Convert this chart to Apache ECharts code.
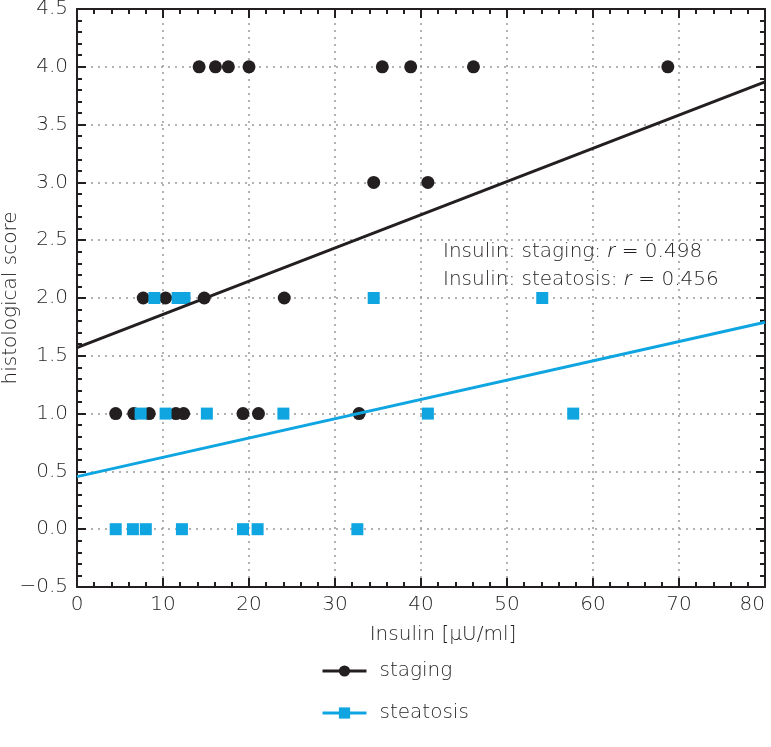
<!DOCTYPE html>
<html>
<head>
<meta charset="utf-8">
<script src="https://cdn.jsdelivr.net/npm/echarts@6/dist/echarts.min.js"></script>
<style>html,body{margin:0;padding:0;background:#fff}#c{width:771px;height:747px}</style>
</head>
<body>
<div id="c"></div>
<script>
// Data
var stagingX = [14.2, 16.1, 17.6, 20.0, 35.5, 38.8, 46.1, 68.7, 34.5, 40.8, 7.7, 10.3, 14.8, 24.1, 4.5, 6.6, 8.4, 11.5, 12.4, 19.3, 21.1, 32.8];
var stagingY = [4, 4, 4, 4, 4, 4, 4, 4, 3, 3, 2, 2, 2, 2, 1, 1, 1, 1, 1, 1, 1, 1];
var steatosisX = [9.0, 11.7, 12.5, 34.5, 54.1, 7.4, 10.3, 15.1, 24.0, 40.8, 57.7, 4.5, 6.5, 8.0, 12.2, 19.3, 21.0, 32.6];
var steatosisY = [2, 2, 2, 2, 2, 1, 1, 1, 1, 1, 1, 0, 0, 0, 0, 0, 0, 0];
var stagingFitX = [0, 80];
var stagingFitY = [1.57, 3.87];
var steatosisFitX = [0, 80];
var steatosisFitY = [0.455, 1.79];
var xTicks = [0, 10, 20, 30, 40, 50, 60, 70, 80];
var yTicks = [-0.5, 0, 0.5, 1, 1.5, 2, 2.5, 3, 3.5, 4, 4.5];
var seriesNames = ['staging', 'steatosis'];
var annotationLines = [['Insulin: staging: ', 'r', ' = 0.498'], ['Insulin: steatosis: ', 'r', ' = 0.456']];

var BLACK = '#231f20', BLUE = '#0ea5e1', TXT = '#231f20';
var FONT = 'DejaVu Sans';
function zip(a, b) { return a.map(function (v, i) { return [v, b[i]]; }); }

var chart = echarts.init(document.getElementById('c'));
var axisLineStyle = { color: BLACK, width: 2 };
function xAx(pos, main) {
  return {
    type: 'value', position: pos, min: xTicks[0], max: xTicks[xTicks.length - 1], interval: 10,
    axisLine: { show: true, onZero: false, lineStyle: axisLineStyle },
    axisTick: { show: true, inside: true, length: 9, lineStyle: { color: BLACK, width: 2 } },
    minorTick: { show: true, splitNumber: 5, length: 5, lineStyle: { color: BLACK, width: 2 } },
    axisLabel: { show: main, fontSize: 20, color: TXT, fontFamily: FONT, fontWeight: 200, margin: 8, alignMaxLabel: 'right' },
    splitLine: { show: main, lineStyle: { type: [2, 5], color: '#999', width: 1.5 } },
    name: main ? 'Insulin [\u03bcU/ml]' : '', nameLocation: 'middle', nameGap: 38, nameMoveOverlap: false,
    nameTextStyle: { fontSize: 20, color: TXT, fontFamily: FONT, fontWeight: 200, padding: [0, 0, 0, 44] }
  };
}
function yAx(pos, main) {
  return {
    type: 'value', position: pos, min: yTicks[0], max: yTicks[yTicks.length - 1], interval: 0.5,
    axisLine: { show: true, onZero: false, lineStyle: axisLineStyle },
    axisTick: { show: true, inside: true, length: 9, lineStyle: { color: BLACK, width: 2 } },
    minorTick: { show: true, splitNumber: 5, length: 5, lineStyle: { color: BLACK, width: 2 } },
    axisLabel: { show: main, fontSize: 20, color: TXT, fontFamily: FONT, fontWeight: 200, margin: 9,
      formatter: function (v) { var s = Math.abs(v).toFixed(1); return v < 0 ? '\u2212' + s : s; } },
    splitLine: { show: main, lineStyle: { type: [2, 5], color: '#999', width: 1.5 } },
    name: main ? 'histological score' : '', nameLocation: 'middle', nameGap: 56, nameMoveOverlap: false,
    nameTextStyle: { fontSize: 20, color: TXT, fontFamily: FONT, fontWeight: 200 }
  };
}

chart.setOption({
  animation: false,
  backgroundColor: '#fff',
  grid: { left: 77, top: 9, right: 6, bottom: 160, containLabel: false, outerBoundsMode: 'none' },
  xAxis: [xAx('bottom', true), xAx('top', false)],
  yAxis: [yAx('left', true), yAx('right', false)],
  legend: {
    data: seriesNames, orient: 'vertical', left: 316, top: 656, itemWidth: 44, itemHeight: 14, itemGap: 22,
    lineStyle: { width: 3 },
    textStyle: { fontSize: 20, color: TXT, fontFamily: FONT, fontWeight: 200, padding: [0, 0, 0, 8] }
  },
  series: [
    { name: seriesNames[0], type: 'line', data: zip(stagingFitX, stagingFitY), showSymbol: false, symbol: 'circle', symbolSize: 12,
      lineStyle: { color: BLACK, width: 3 }, itemStyle: { color: BLACK }, z: 5 },
    { name: seriesNames[1], type: 'line', data: zip(steatosisFitX, steatosisFitY), showSymbol: false, symbol: 'rect', symbolSize: 12,
      lineStyle: { color: BLUE, width: 3 }, itemStyle: { color: BLUE }, z: 5 },
    { name: seriesNames[0], type: 'scatter', data: zip(stagingX, stagingY), symbol: 'circle', symbolSize: 13,
      itemStyle: { color: BLACK, opacity: 1 }, z: 3 },
    { name: seriesNames[1], type: 'scatter', data: zip(steatosisX, steatosisY), symbol: 'rect', symbolSize: 12,
      itemStyle: { color: BLUE, opacity: 1 }, z: 4 }
  ],
  graphic: annotationLines.map(function (ln, i) {
    return { type: 'text', left: 443, top: 241 + i * 28, z: 10,
      style: { text: '{a|' + ln[0] + '}{b|' + ln[1] + '}{a|' + ln[2] + '}',
        rich: { a: { fontSize: 20, fontFamily: FONT, fontWeight: 200, fill: TXT },
                b: { fontSize: 21, fontFamily: 'Open Sans', fontWeight: 300, fontStyle: 'italic', fill: TXT } } } };
  })
});
</script>
</body>
</html>
